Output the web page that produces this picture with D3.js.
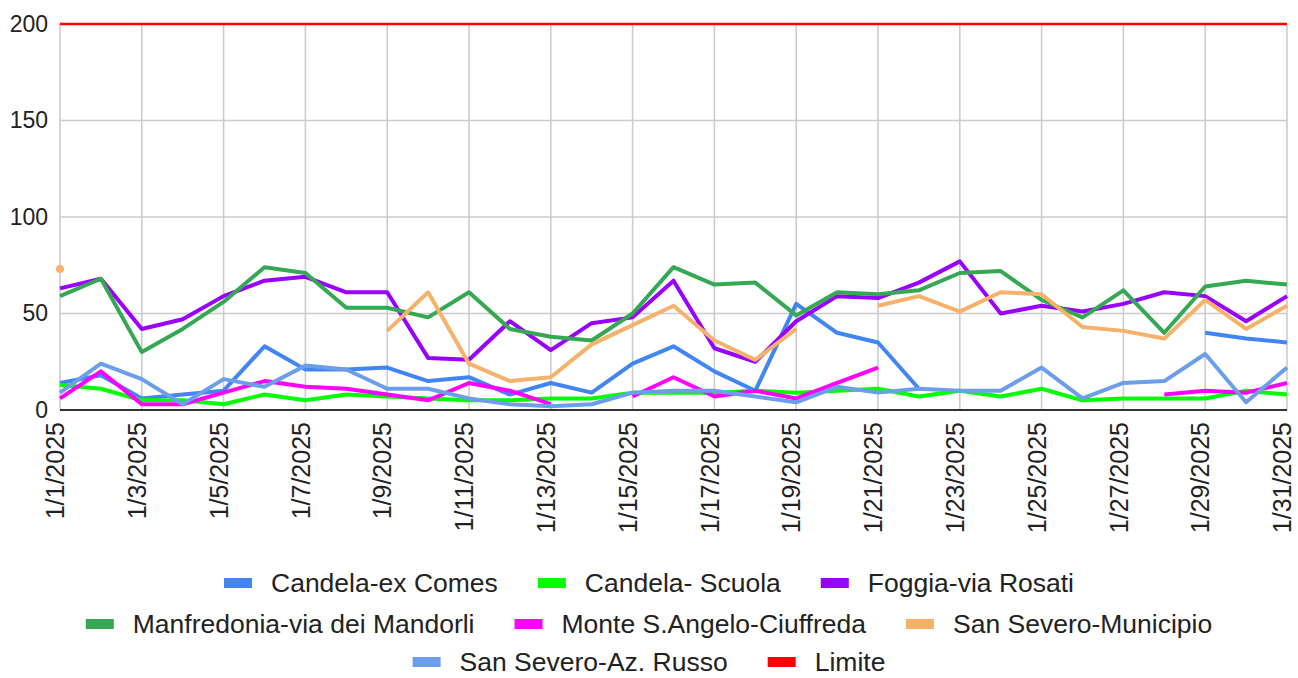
<!DOCTYPE html>
<html>
<head>
<meta charset="utf-8">
<script src="https://cdn.jsdelivr.net/npm/d3@7"></script>
<style>
  body { margin: 0; background: #fff; }
  text { font-family: Arial, "Liberation Sans", sans-serif; fill: #222; }
</style>
</head>
<body>
<div id="chart"></div>
<script>
const days = d3.range(1, 32);
const dateLabels = days.map(d => `1/${d}/2025`);
const yTicks = [0, 50, 100, 150, 200];

const candelaExComes = [14, 18, 6, 8, 10, 33, 21, 21, 22, 15, 17, 8, 14, 9, 24, 33, 20, 10, 55, 40, 35, 11, null, null, null, null, null, null, 40, 37, 35];
const candelaScuola = [13, 11, 5, 5, 3, 8, 5, 8, 7, 6, 5, 5, 6, 6, 9, 9, 9, 10, 9, 10, 11, 7, 10, 7, 11, 5, 6, 6, 6, 10, 8];
const foggiaRosati = [63, 68, 42, 47, 59, 67, 69, 61, 61, 27, 26, 46, 31, 45, 48, 67, 32, 25, 46, 59, 58, 66, 77, 50, 54, 51, 55, 61, 59, 46, 59];
const manfredonia = [59, 68, 30, 42, 56, 74, 71, 53, 53, 48, 61, 42, 38, 36, 50, 74, 65, 66, 49, 61, 60, 62, 71, 72, 57, 48, 62, 40, 64, 67, 65];
const monteSAngelo = [6, 20, 3, 3, 9, 15, 12, 11, 8, 5, 14, 10, 3, null, 7, 17, 7, 10, 6, 14, 22, null, null, null, null, null, null, 8, 10, 9, 14];
const sanSeveroMunicipio = [73, null, null, null, null, null, null, null, 41, 61, 24, 15, 17, 34, 44, 54, 36, 26, 42, null, 54, 59, 51, 61, 60, 43, 41, 37, 57, 42, 54];
const sanSeveroRusso = [9, 24, 16, 3, 16, 12, 23, 21, 11, 11, 6, 3, 2, 3, 9, 10, 10, 7, 4, 12, 9, 11, 10, 10, 22, 6, 14, 15, 29, 4, 22];
const limite = days.map(() => 200);

const seriesNames = ['Candela-ex Comes', 'Candela- Scuola', 'Foggia-via Rosati', 'Manfredonia-via dei Mandorli',
  'Monte S.Angelo-Ciuffreda', 'San Severo-Municipio', 'San Severo-Az. Russo', 'Limite'];
const seriesValues = [candelaExComes, candelaScuola, foggiaRosati, manfredonia, monteSAngelo, sanSeveroMunicipio, sanSeveroRusso, limite];
const seriesColors = ['#4285f4', '#00ff00', '#9900ff', '#34a853', '#ff00ff', '#f6b26b', '#6d9eeb', '#ff0000'];

const width = 1298;
const height = 678;
const margin = { top: 24, right: 11, bottom: 268, left: 60 };

const svg = d3.select('#chart').append('svg')
  .attr('width', width)
  .attr('height', height);

const x = d3.scaleLinear()
  .domain([1, 31])
  .range([margin.left, width - margin.right]);

const y = d3.scaleLinear()
  .domain([0, 200])
  .range([height - margin.bottom, margin.top]);

// grid
const grid = svg.append('g');
grid.selectAll('line.h')
  .data(yTicks.filter(t => t > 0))
  .join('line')
  .attr('x1', x(1)).attr('x2', x(31))
  .attr('y1', d => y(d)).attr('y2', d => y(d))
  .attr('stroke', '#cccccc').attr('stroke-width', 1.6);
grid.selectAll('line.v')
  .data(days.filter(d => d % 2 === 1))
  .join('line')
  .attr('x1', d => x(d)).attr('x2', d => x(d))
  .attr('y1', y(200)).attr('y2', y(0))
  .attr('stroke', '#cccccc').attr('stroke-width', 1.6);

// y axis labels
const yAxis = svg.append('g')
  .attr('transform', `translate(${margin.left}, 0)`)
  .call(d3.axisLeft(y).tickValues(yTicks).tickSize(0).tickPadding(12));
yAxis.select('.domain').remove();
yAxis.selectAll('text')
  .attr('font-size', 23)
  .attr('font-family', 'Arial, "Liberation Sans", sans-serif')
  .attr('fill', '#222');

// x axis labels
const xAxis = svg.append('g')
  .attr('transform', `translate(0, ${y(0)})`)
  .call(d3.axisBottom(x)
    .tickValues(days.filter(d => d % 2 === 1))
    .tickFormat(d => dateLabels[d - 1])
    .tickSize(0));
xAxis.select('.domain').remove();
xAxis.selectAll('text')
  .attr('font-size', 25)
  .attr('font-family', 'Arial, "Liberation Sans", sans-serif')
  .attr('fill', '#222')
  .attr('text-anchor', 'end')
  .attr('transform', 'rotate(-90)')
  .attr('x', -12)
  .attr('y', -5)
  .attr('dy', '0.35em');

// series
const line = d3.line()
  .defined(d => d.v != null)
  .x(d => x(d.day))
  .y(d => y(d.v));

const lines = svg.append('g');
seriesValues.forEach((vals, i) => {
  const pts = vals.map((v, j) => ({ day: days[j], v }));
  lines.append('path')
    .datum(pts)
    .attr('fill', 'none')
    .attr('stroke', seriesColors[i])
    .attr('stroke-width', i === 7 ? 2.6 : 4)
    .attr('stroke-linejoin', 'round')
    .attr('d', line);
  // isolated points
  const lonely = pts.filter((p, j) => p.v != null &&
    (j === 0 || pts[j - 1].v == null) && (j === pts.length - 1 || pts[j + 1].v == null));
  lines.selectAll(null)
    .data(lonely)
    .join('circle')
    .attr('cx', d => x(d.day))
    .attr('cy', d => y(d.v))
    .attr('r', 4)
    .attr('fill', seriesColors[i]);
});

// baseline
svg.append('line')
  .attr('x1', x(1)).attr('x2', x(31))
  .attr('y1', y(0)).attr('y2', y(0))
  .attr('stroke', '#333').attr('stroke-width', 2);

// legend
const legendRows = [[0, 1, 2], [3, 4, 5], [6, 7]];
const rowY = [583, 624, 662];
const legend = svg.append('g');
const swW = 28, swH = 10, swGap = 19, itemGap = 40, fontSize = 26.5;

legendRows.forEach((row, r) => {
  const g = legend.append('g');
  let cx = 0;
  row.forEach(i => {
    g.append('rect')
      .attr('x', cx).attr('y', rowY[r] - swH / 2)
      .attr('width', swW).attr('height', swH)
      .attr('fill', seriesColors[i]);
    const t = g.append('text')
      .attr('x', cx + swW + swGap)
      .attr('y', rowY[r])
      .attr('dy', '0.35em')
      .attr('font-size', fontSize)
      .text(seriesNames[i]);
    cx += swW + swGap + t.node().getComputedTextLength() + itemGap;
  });
  const total = cx - itemGap;
  g.attr('transform', `translate(${649 - total / 2}, 0)`);
});
</script>
</body>
</html>
